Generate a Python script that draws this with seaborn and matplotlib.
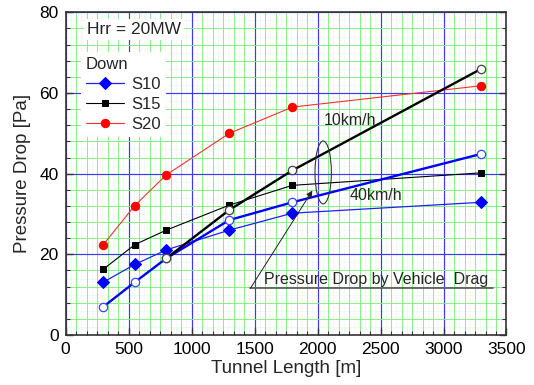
import numpy as np
import pandas as pd
import matplotlib
matplotlib.use("Agg")
import matplotlib.pyplot as plt
import seaborn as sns
from matplotlib.ticker import MultipleLocator
from matplotlib.patches import Ellipse

# ---- data ----
length = [300, 550, 800, 1300, 1800, 3300]
s10 = [13.1, 17.5, 21.1, 26.0, 30.2, 32.9]
s15 = [16.3, 22.4, 26.0, 32.2, 37.1, 40.2]
s20 = [22.4, 32.1, 39.7, 50.0, 56.5, 61.8]
length_10kmh = [800, 1300, 1800, 3300]
drag_10kmh = [19.0, 31.0, 40.8, 66.0]
length_40kmh = [300, 550, 800, 1300, 1800, 3300]
drag_40kmh = [7.0, 13.1, 19.0, 28.5, 32.9, 44.9]
series_labels = ["S10", "S15", "S20"]
legend_title = "Down"
note_hrr = "Hrr = 20MW"
note_10 = "10km/h"
note_40 = "40km/h"
note_drag = "Pressure Drop by Vehicle  Drag"

sns.set_style("ticks")
plt.rcParams["font.family"] = ["Liberation Sans", "DejaVu Sans"]

fig = plt.figure(figsize=(5.34, 3.85), dpi=100)
ax = fig.add_axes([0.1227, 0.1299, 0.8258, 0.8381])

# grid
ax.set_xlim(0, 3500)
ax.set_ylim(0, 80)
ax.xaxis.set_major_locator(MultipleLocator(500))
ax.xaxis.set_minor_locator(MultipleLocator(500 / 6))
ax.yaxis.set_major_locator(MultipleLocator(20))
ax.yaxis.set_minor_locator(MultipleLocator(4))
for xv in np.arange(500 / 12, 3500, 500 / 6):
    ax.axvline(xv, color="#ecfbec", lw=0.6, zorder=0)
for yv in np.arange(2, 80, 4):
    ax.axhline(yv, color="#ecfbec", lw=0.6, zorder=0)
ax.grid(which="minor", color="#7fef7f", lw=0.65, zorder=0.5)
ax.grid(which="major", color="#3a3aff", lw=0.85, zorder=0.6)
ax.set_axisbelow(True)

# thin series
l20 = sns.lineplot(x=length, y=s20, ax=ax, color="#ff3030", lw=0.8, marker="o",
                   markersize=6, markerfacecolor="red", markeredgecolor="red",
                   legend=False).lines[-1]
l15 = sns.lineplot(x=length, y=s15, ax=ax, color="black", lw=0.8, marker="s",
                   markersize=5, markerfacecolor="black", markeredgecolor="black",
                   legend=False).lines[-1]
l10 = sns.lineplot(x=length, y=s10, ax=ax, color="#2020ff", lw=0.9, marker="D",
                   markersize=6, markerfacecolor="#0000ff", markeredgecolor="#0000ff",
                   legend=False).lines[-1]

# thick vehicle drag series
sns.lineplot(x=length_40kmh, y=drag_40kmh, ax=ax, color="#0000ff", lw=1.7, marker="o",
             markersize=6, markerfacecolor="white", markeredgecolor="#4444ff",
             markeredgewidth=0.9, legend=False)
sns.lineplot(x=length_10kmh, y=drag_10kmh, ax=ax, color="black", lw=1.7, marker="o",
             markersize=6, markerfacecolor="white", markeredgecolor="#444444",
             markeredgewidth=0.9, legend=False)

# annotations
ax.add_patch(Ellipse((2045, 40.3), width=130, height=15.6, fill=False,
                     edgecolor="#333333", lw=0.8, zorder=5))
ax.text(2049, 53.1, note_10, fontsize=11.5, va="center", ha="left", zorder=6)
ax.text(2255, 34.7, note_40, fontsize=11.5, va="center", ha="left", zorder=6)
ax.text(1575, 13.7, note_drag, fontsize=11.5, va="center", ha="left", zorder=6)
ax.plot([1468, 3393], [11.6, 11.6], color="#555555", lw=1.2, zorder=5)
ax.annotate("", xy=(1959, 35.8), xytext=(1468, 11.6),
            arrowprops=dict(arrowstyle="-|>", color="#222222", lw=0.7,
                            mutation_scale=9, shrinkA=0, shrinkB=0), zorder=6)
ax.text(0.049, 0.947, note_hrr, transform=ax.transAxes, fontsize=12.5,
        va="center", ha="left", zorder=7,
        bbox=dict(facecolor="white", edgecolor="none", pad=2))

leg = ax.legend([l10, l15, l20], series_labels, title=legend_title,
                loc="upper left", bbox_to_anchor=(0.035, 0.877),
                fontsize=12, title_fontsize=12, frameon=True, fancybox=False,
                edgecolor="none", facecolor="white", framealpha=1,
                handlelength=2.3, handletextpad=0.4, labelspacing=0.3,
                borderpad=0.3, borderaxespad=0)
leg._legend_box.align = "left"
leg.set_zorder(8)

# axes styling
for side in ["left", "right", "top", "bottom"]:
    ax.spines[side].set_visible(True)
    ax.spines[side].set_color("#333333")
    ax.spines[side].set_linewidth(1.2)
ax.tick_params(which="both", direction="in", right=True, top=False,
               colors="#333333", labelcolor="black")
ax.tick_params(which="major", length=5, width=1, labelsize=12.5, pad=5)
ax.tick_params(which="minor", length=3, width=0.8)
ax.set_xlabel("Tunnel Length [m]", fontsize=13.5, labelpad=2)
ax.set_ylabel("Pressure Drop [Pa]", fontsize=13.5, labelpad=6)

fig.savefig("out.png", dpi=100)
